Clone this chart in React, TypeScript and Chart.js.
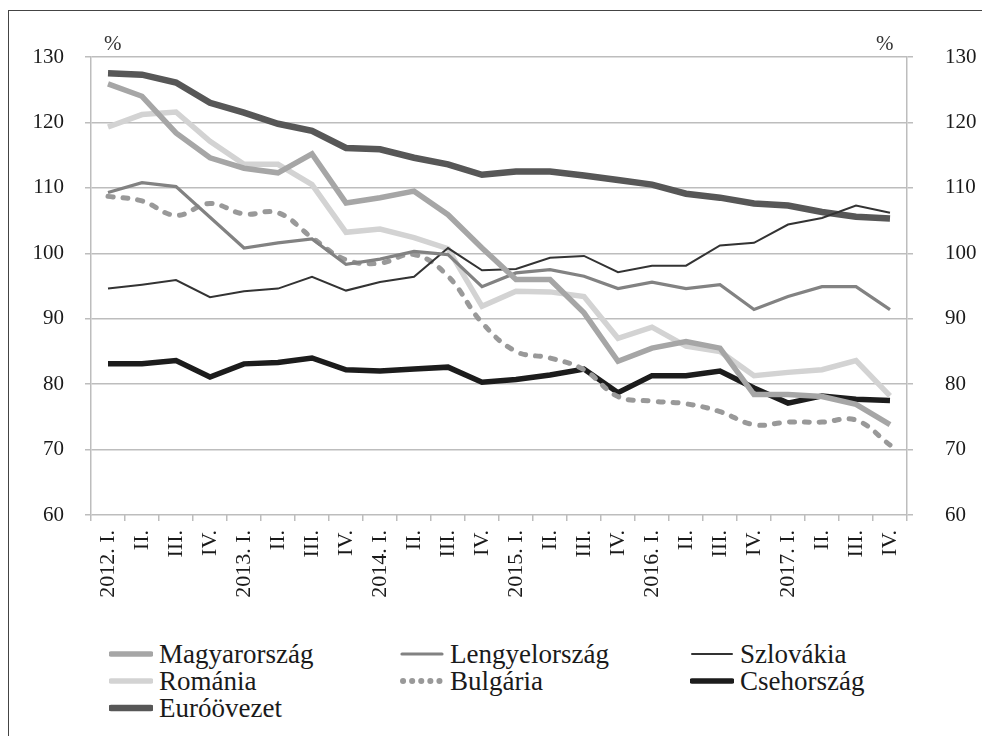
import React, { useEffect, useRef } from "react";
import { Chart, registerables } from "chart.js";

Chart.register(...registerables);

const categories = [
  "2012. I.", "II.", "III.", "IV.",
  "2013. I.", "II.", "III.", "IV.",
  "2014. I.", "II.", "III.", "IV.",
  "2015. I.", "II.", "III.", "IV.",
  "2016. I.", "II.", "III.", "IV.",
  "2017. I.", "II.", "III.", "IV.",
];

const magyarorszag = [125.9, 124.0, 118.4, 114.6, 113.0, 112.3, 115.2, 107.7, 108.5, 109.5, 105.9, 100.8, 96.0, 96.0, 90.9, 83.5, 85.5, 86.5, 85.5, 78.4, 78.4, 78.1, 76.9, 73.8];
const lengyelorszag = [109.3, 110.8, 110.2, 105.5, 100.8, 101.6, 102.2, 98.3, 99.1, 100.3, 99.8, 94.9, 97.0, 97.5, 96.5, 94.6, 95.6, 94.6, 95.2, 91.4, 93.4, 94.9, 94.9, 91.4];
const szlovakia = [94.6, 95.2, 95.9, 93.3, 94.2, 94.6, 96.4, 94.3, 95.6, 96.4, 100.8, 97.4, 97.6, 99.3, 99.6, 97.1, 98.1, 98.1, 101.2, 101.6, 104.4, 105.4, 107.3, 106.2];
const romania = [119.3, 121.2, 121.6, 117.1, 113.6, 113.6, 110.5, 103.2, 103.7, 102.4, 100.7, 91.9, 94.2, 94.1, 93.4, 87.0, 88.7, 85.8, 85.0, 81.3, 81.8, 82.2, 83.6, 78.2];
const bulgaria = [108.7, 108.0, 105.8, 107.6, 106.0, 106.2, 102.4, 99.0, 98.5, 99.8, 96.5, 89.4, 85.0, 84.0, 82.2, 78.1, 77.4, 77.0, 75.8, 73.8, 74.2, 74.2, 74.5, 70.7];
const csehorszag = [83.1, 83.1, 83.6, 81.1, 83.1, 83.3, 84.0, 82.2, 82.0, 82.3, 82.6, 80.3, 80.7, 81.4, 82.3, 78.7, 81.3, 81.3, 82.0, 79.4, 77.1, 78.2, 77.7, 77.5];
const euroovezet = [127.5, 127.3, 126.1, 123.0, 121.5, 119.8, 118.7, 116.1, 115.9, 114.6, 113.6, 112.0, 112.5, 112.5, 111.9, 111.2, 110.5, 109.1, 108.5, 107.6, 107.3, 106.3, 105.6, 105.3];

const yMin = 60;
const yMax = 130;
const yStep = 10;
const unitLabel = "%";

const FONT = "'Liberation Serif', 'Times New Roman', serif";

type Series = {
  label: string;
  data: number[];
  color: string;
  width: number;
  dash?: number[];
  tension?: number;
};

const series: Series[] = [
  { label: "Magyarország", data: magyarorszag, color: "#a6a6a6", width: 5.5 },
  { label: "Lengyelország", data: lengyelorszag, color: "#828282", width: 3.2 },
  { label: "Szlovákia", data: szlovakia, color: "#333333", width: 2 },
  { label: "Románia", data: romania, color: "#d3d3d3", width: 5.5 },
  { label: "Bulgária", data: bulgaria, color: "#999999", width: 5, dash: [5, 10], tension: 0.4 },
  { label: "Csehország", data: csehorszag, color: "#1c1c1c", width: 5.5 },
  { label: "Euróövezet", data: euroovezet, color: "#575757", width: 6.5 },
];

const legendPos = [
  { x: 109, y: 654 },
  { x: 400, y: 654 },
  { x: 690, y: 654 },
  { x: 109, y: 681 },
  { x: 400, y: 681 },
  { x: 690, y: 681 },
  { x: 109, y: 708 },
];

export default function App() {
  const ref = useRef<HTMLCanvasElement | null>(null);

  useEffect(() => {
    if (!ref.current) return;
    const gridColor = "#bdbdbd";
    const chart = new Chart(ref.current, {
      type: "line",
      data: {
        labels: categories,
        datasets: series.map((s) => ({
          label: s.label,
          data: s.data,
          borderColor: s.color,
          backgroundColor: s.color,
          borderWidth: s.width,
          borderDash: s.dash || [],
          borderCapStyle: s.dash ? "round" : "butt",
          tension: s.tension || 0,
          pointRadius: 0,
          fill: false,
          yAxisID: "y",
        })),
      },
      options: {
        responsive: false,
        animation: false,
        layout: { padding: { top: 57, left: 0, right: 0, bottom: 0 } },
        plugins: { legend: { display: false }, tooltip: { enabled: false } },
        scales: {
          x: {
            offset: true,
            grid: { offset: true, drawOnChartArea: false, tickLength: 6, color: gridColor, lineWidth: 1.5 },
            border: { display: false },
            ticks: {
              minRotation: 90,
              maxRotation: 90,
              autoSkip: false,
              padding: 9,
              color: "#1a1a1a",
              font: { family: FONT, size: 22 },
            },
            afterFit: (s: any) => { s.height = 105; },
          },
          y: {
            position: "left",
            min: yMin,
            max: yMax,
            grid: { color: gridColor, lineWidth: 1.5, tickLength: 6 },
            border: { display: true, color: gridColor, width: 1.5 },
            ticks: {
              stepSize: yStep,
              padding: 21,
              color: "#1a1a1a",
              font: { family: FONT, size: 21 },
            },
            afterFit: (s: any) => { s.width = 91; },
          },
          y2: {
            position: "right",
            min: yMin,
            max: yMax,
            grid: { drawOnChartArea: false, color: gridColor, lineWidth: 1.5, tickLength: 6 },
            border: { display: true, color: gridColor, width: 1.5 },
            ticks: {
              stepSize: yStep,
              padding: 32,
              color: "#1a1a1a",
              font: { family: FONT, size: 21 },
            },
            afterFit: (s: any) => { s.width = 75; },
          },
        },
      },
    });
    return () => chart.destroy();
  }, []);

  return (
    <div style={{ position: "absolute", left: 0, top: 0, width: 982, height: 736, background: "#fff", overflow: "hidden", fontFamily: FONT }}>
      <div style={{ position: "absolute", left: 8, top: 10, width: 990, height: 740, borderLeft: "1.5px solid #444", borderTop: "1.5px solid #444" }} />
      <canvas ref={ref} width={982} height={620} style={{ position: "absolute", left: 0, top: 0, width: 982, height: 620 }} />
      <div style={{ position: "absolute", left: 104, top: 31, fontSize: 21, color: "#333" }}>{unitLabel}</div>
      <div style={{ position: "absolute", left: 876, top: 31, fontSize: 21, color: "#333" }}>{unitLabel}</div>
      {series.map((s, i) => (
        <div key={s.label} style={{ position: "absolute", left: legendPos[i].x, top: legendPos[i].y - 14, height: 28, display: "flex", alignItems: "center" }}>
          <svg width={44} height={10} style={{ display: "block" }}>
            <line
              x1={s.dash ? 3 : 2}
              y1={5}
              x2={s.dash ? 41 : 42}
              y2={5}
              stroke={s.color}
              strokeWidth={s.dash ? 6 : s.width}
              strokeLinecap="round"
              strokeDasharray={s.dash ? "0.1 9" : undefined}
            />
          </svg>
          <span style={{ marginLeft: 6, fontSize: 27, color: "#1a1a1a", lineHeight: "28px", whiteSpace: "nowrap" }}>{s.label}</span>
        </div>
      ))}
    </div>
  );
}
